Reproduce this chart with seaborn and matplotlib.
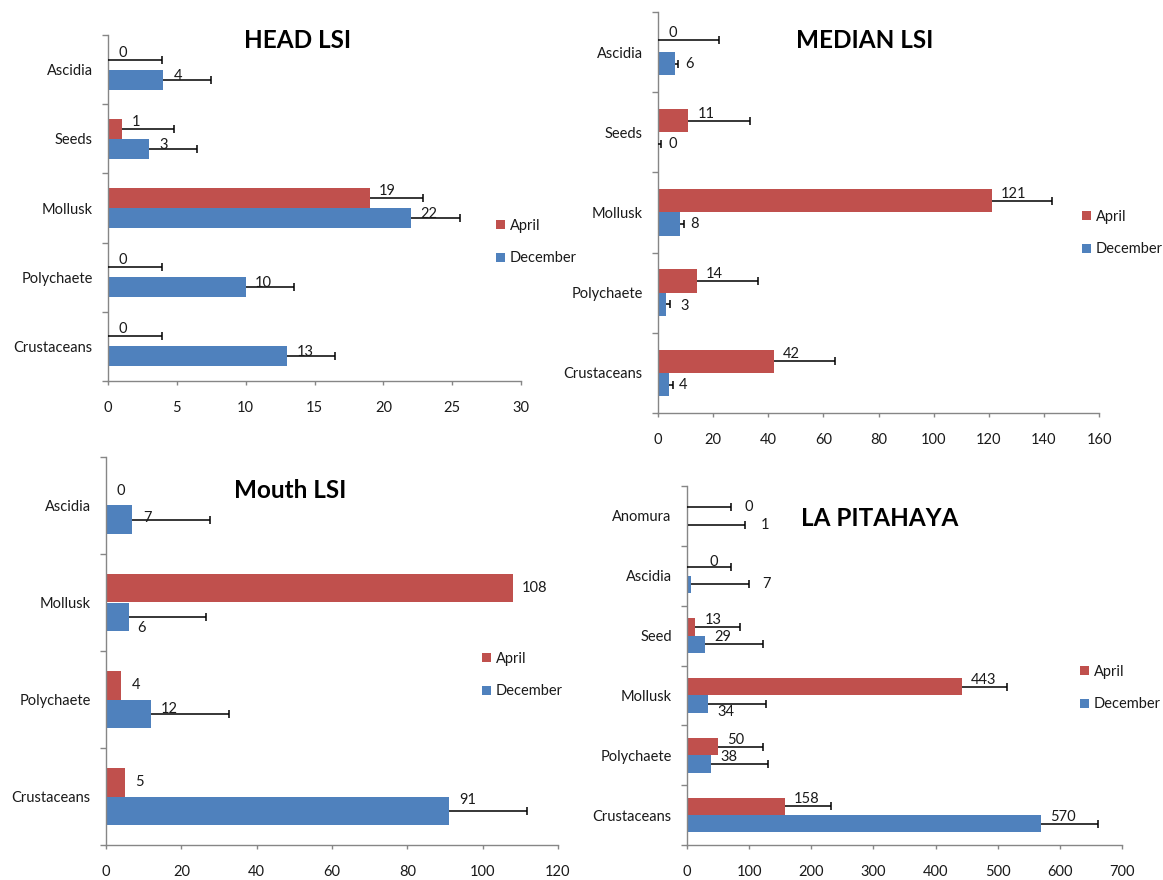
import numpy as np
import pandas as pd
import matplotlib
matplotlib.use("Agg")
import matplotlib.pyplot as plt
import seaborn as sns
from matplotlib.ticker import FixedLocator, MultipleLocator

# ---------------- data ----------------
months = ["April", "December"]

head_categories = ["Ascidia", "Seeds", "Mollusk", "Polychaete", "Crustaceans"]
head_april = [0, 1, 19, 0, 0]
head_december = [4, 3, 22, 10, 13]
head_april_err = [3.9, 3.8, 3.9, 3.9, 3.9]
head_december_err = [3.5, 3.5, 3.6, 3.5, 3.5]

median_categories = ["Ascidia", "Seeds", "Mollusk", "Polychaete", "Crustaceans"]
median_april = [0, 11, 121, 14, 42]
median_december = [6, 0, 8, 3, 4]
median_april_err = [22.1, 22.5, 22.1, 22.1, 22.2]
median_december_err = [1.1, 1.1, 1.6, 1.3, 1.5]

mouth_categories = ["Ascidia", "Mollusk", "Polychaete", "Crustaceans"]
mouth_april = [0, 108, 4, 5]
mouth_december = [7, 6, 12, 91]
mouth_april_err = [np.nan, np.nan, np.nan, np.nan]
mouth_december_err = [20.6, 20.6, 20.6, 20.8]

pitahaya_categories = ["Anomura", "Ascidia", "Seed", "Mollusk", "Polychaete", "Crustaceans"]
pitahaya_april = [0, 0, 13, 443, 50, 158]
pitahaya_december = [1, 7, 29, 34, 38, 570]
pitahaya_april_err = [71, 71, 72, 72, 72, 74]
pitahaya_december_err = [92, 92, 93, 93, 92, 92]

# ---------------- style ----------------
W, H = 1163, 880
COLORS = {"April": "#C0504D", "December": "#4F81BD"}
AXIS_GRAY = "#868686"
TEXT = "#1a1a1a"
FS = 10.5

sns.set_style("white")
plt.rcParams["font.family"] = ["Lato", "DejaVu Sans"]
plt.rcParams["font.size"] = FS

fig = plt.figure(figsize=(W / 100, H / 100), dpi=100)


def px_rect(x0, x1, ytop, ybottom):
    return [x0 / W, 1 - ybottom / H, (x1 - x0) / W, (ybottom - ytop) / H]


def draw_panel(rect, title, title_xy, categories, april, december,
               april_err, december_err, xmax, xstep, legend_xy,
               dy_april, dy_december, overrides):
    ax = fig.add_axes(rect)
    n = len(categories)
    df = pd.DataFrame({
        "category": list(categories) * 2,
        "month": [months[0]] * n + [months[1]] * n,
        "value": list(april) + list(december),
    })
    sns.barplot(data=df, y="category", x="value", hue="month",
                order=categories, hue_order=months, palette=COLORS,
                orient="h", width=0.58, saturation=1, errorbar=None,
                linewidth=0, ax=ax)

    errs = [april_err, december_err]
    vals = [april, december]
    dys = [dy_april, dy_december]
    for k, container in enumerate(ax.containers):
        for i, bar in enumerate(container):
            v = vals[k][i]
            yc = bar.get_y() + bar.get_height() / 2
            xe = bar.get_x() + bar.get_width()
            e = errs[k][i]
            if not np.isnan(e):
                ax.hlines(yc, xe, xe + e, color="black", lw=1.1, zorder=4)
                ax.plot([xe + e], [yc], marker="|", ms=6, mew=1.1,
                        color="black", zorder=4)
            label = str(v)
            dx = 11 + 3.5 * len(label)
            dy = dys[k]
            key = (categories[i], months[k])
            if key in overrides:
                dx, dy = overrides[key]
            ax.annotate(label, xy=(xe, yc), xytext=(dx, dy),
                        textcoords="offset pixels", ha="center", va="center",
                        fontsize=FS, color=TEXT, zorder=5)

    ax.set_xlim(0, xmax)
    ax.set_ylim(n - 0.5, -0.5)
    ax.xaxis.set_major_locator(MultipleLocator(xstep))
    ax.yaxis.set_minor_locator(FixedLocator(np.arange(-0.5, n, 1.0)))
    ax.set_xlabel("")
    ax.set_ylabel("")
    for side in ("top", "right"):
        ax.spines[side].set_visible(False)
    for side in ("left", "bottom"):
        ax.spines[side].set_color(AXIS_GRAY)
        ax.spines[side].set_linewidth(1.0)
    ax.tick_params(axis="y", which="major", length=0, pad=11,
                   labelsize=FS, labelcolor=TEXT)
    ax.tick_params(axis="y", which="minor", length=4, width=1,
                   color=AXIS_GRAY, left=True, direction="out")
    ax.tick_params(axis="x", which="major", length=3, width=1,
                   color=AXIS_GRAY, bottom=True, direction="out", pad=11.5,
                   labelsize=FS, labelcolor=TEXT)
    ax.grid(False)

    sns.move_legend(ax, "center left",
                    bbox_to_anchor=(legend_xy[0] / W, 1 - legend_xy[1] / H),
                    bbox_transform=fig.transFigure, frameon=False, title=None,
                    handlelength=0.6, handleheight=0.6, handletextpad=0.35,
                    labelspacing=1.3, borderpad=0, borderaxespad=0,
                    fontsize=FS, labelcolor=TEXT)

    fig.text(title_xy[0] / W, 1 - title_xy[1] / H, title, ha="center",
             va="center", fontsize=17.5, fontweight="bold", color="black")
    return ax


draw_panel(px_rect(108, 521, 35, 381), "HEAD LSI", (298, 40),
           head_categories, head_april, head_december,
           head_april_err, head_december_err, 30, 5, (496, 242),
           7, 4, {})

draw_panel(px_rect(658, 1099, 12, 413), "MEDIAN LSI", (865, 40),
           median_categories, median_april, median_december,
           median_april_err, median_december_err, 160, 20, (1082, 233),
           7, 0, {("Polychaete", "December"): (18, -2)})

draw_panel(px_rect(106, 558, 457, 845), "Mouth LSI", (290, 490),
           mouth_categories, mouth_april, mouth_december,
           mouth_april_err, mouth_december_err, 120, 20, (482, 675),
           0, 5, {("Ascidia", "December"): (15, 2),
                  ("Mollusk", "December"): (13, -11),
                  ("Crustaceans", "December"): (19, 11)})

draw_panel(px_rect(687, 1122, 486, 845), "LA PITAHAYA", (880, 518),
           pitahaya_categories, pitahaya_april, pitahaya_december,
           pitahaya_april_err, pitahaya_december_err, 700, 100, (1080, 688),
           7, 7, {("Anomura", "April"): (62, 0),
                  ("Anomura", "December"): (77, 0),
                  ("Ascidia", "April"): (27, 5),
                  ("Ascidia", "December"): (75, 0),
                  ("Mollusk", "December"): (18, -8)})

fig.savefig("out.png", dpi=100, facecolor="white")
